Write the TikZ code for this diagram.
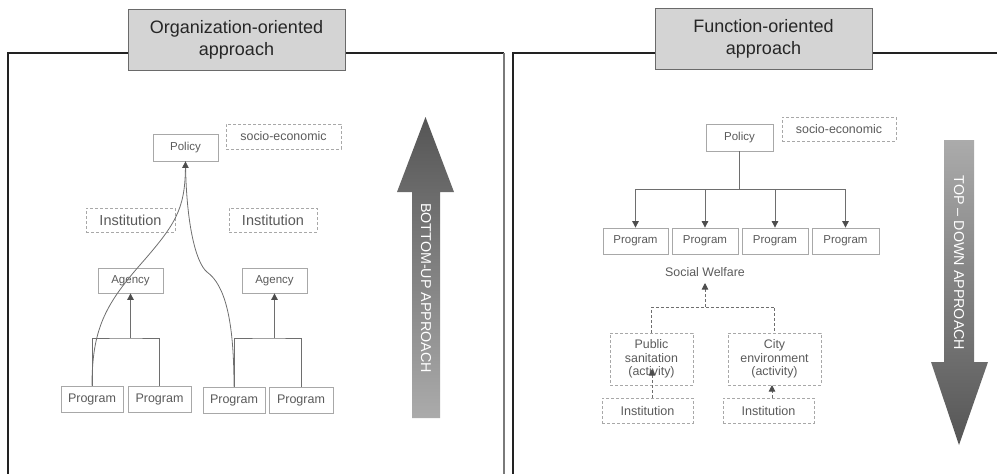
\documentclass[tikz,border=0pt]{standalone}
\usepackage{fontspec}
\setmainfont{Liberation Sans}
\usetikzlibrary{arrows.meta}

\definecolor{framecol}{HTML}{222222}
\definecolor{framegray}{HTML}{7A7A7A}
\definecolor{titlefill}{HTML}{D4D4D4}
\definecolor{titleedge}{HTML}{6A6A6A}
\definecolor{titleink}{HTML}{262626}
\definecolor{boxedge}{HTML}{A8A8A8}
\definecolor{ink}{HTML}{5A5A5A}
\definecolor{wirecol}{HTML}{6E6E6E}
\definecolor{tipcol}{HTML}{4D4D4D}
\definecolor{arrowdark}{HTML}{555555}
\definecolor{arrowlight}{HTML}{ABABAB}

\newcommand{\fsz}[2]{\fontsize{#1}{#2}\selectfont}

\tikzset{
  frame/.style={draw=framecol, line width=1.1pt},
  titlebox/.style={draw=titleedge, fill=titlefill, line width=0.9pt, text=titleink,
    align=center, inner sep=0pt, minimum width=217, minimum height=61, font=\fsz{18}{22}},
  box/.style={draw=boxedge, line width=0.8pt, text=ink, inner sep=0pt, font=\fsz{11.5}{13.5}},
  dbox/.style={box, dash pattern=on 3pt off 2pt},
  wire/.style={draw=wirecol, line width=0.9pt},
  conn/.style={wire, -{Triangle[length=6.5pt,width=6.5pt,color=tipcol]}},
  dwire/.style={wire, dash pattern=on 3pt off 2pt},
  dconn/.style={dwire, -{Triangle[length=6.5pt,width=6.5pt,color=tipcol]}},
  curve/.style={draw=wirecol, line width=0.8pt},
  bigtext/.style={rotate=-90, text=white, inner sep=0pt, font=\fsz{14.3}{16}},
}

\begin{document}
\begin{tikzpicture}[x=1pt, y=-1pt]
\useasboundingbox (0,0) rectangle (997,474);

% panel frames
\draw[frame] (8,474) -- (8,53) -- (504,53);
\draw[frame, draw=framegray] (504,53) -- (504,474);
\draw[frame] (513,474) -- (513,53) -- (997,53);

% panel titles
\node[titlebox] (titleL) at (236.5,40) {Organization-oriented\\approach};
\node[titlebox] (titleR) at (763.5,39) {Function-oriented\\approach};

% ---------- organization-oriented panel ----------
\node[box, minimum width=65, minimum height=27] (polL) at (185.5,147.5) {Policy};
\node[dbox, minimum width=115, minimum height=25, font=\fsz{12.4}{14}] (seL) at (283.5,136.5) {socio-economic};
\node[dbox, minimum width=89, minimum height=24, font=\fsz{14.5}{16}] (instL1) at (130.5,220) {Institution};
\node[dbox, minimum width=88, minimum height=24, font=\fsz{14.5}{16}] (instL2) at (273,220) {Institution};
\node[box, minimum width=65, minimum height=25] (agL1) at (130.5,280.5) {Agency};
\node[box, minimum width=65, minimum height=25] (agL2) at (274.5,280.5) {Agency};
\node[box, minimum width=62, minimum height=26, font=\fsz{12.5}{14}] (pL1) at (92,399) {Program};
\node[box, minimum width=63, minimum height=26, font=\fsz{12.5}{14}] (pL2) at (159.5,399) {Program};
\node[box, minimum width=62, minimum height=26, font=\fsz{12.5}{14}] (pL3) at (234,400) {Program};
\node[box, minimum width=64, minimum height=26, font=\fsz{12.5}{14}] (pL4) at (301,400) {Program};

\coordinate (jL1) at (126,338);
\coordinate (jL2) at (270,338);
\draw[wire] (pL1.north) |- (jL1) -| (pL2.north);
\draw[wire] (pL3.north) |- (jL2) -| (pL4.north);
\draw[conn] (agL1.south |- jL1) -- (agL1.south);
\draw[conn] (agL2.south |- jL2) -- (agL2.south);

% programs reporting straight to the policy
\draw[curve] (pL3.north) .. controls (234,320) and (225,285) .. (207,272)
  .. controls (195,262) and (186,220) .. (polL.south);
\draw[curve, -{Triangle[length=6.5pt,width=6.5pt,color=tipcol]}] (pL1.north)
  .. controls (92,330) and (105,305) .. (140,265)
  .. controls (175,225) and (185,210) .. (polL.south);

% bottom-up arrow
\shade[top color=arrowdark, bottom color=arrowlight]
  (412,418) -- (412,192) -- (397,192) -- (425.5,117) -- (454,192) -- (440,192) -- (440,418) -- cycle;
\node[bigtext] (bu) at (426,288) {BOTTOM-UP APPROACH};

% ---------- function-oriented panel ----------
\node[box, minimum width=67, minimum height=27] (polR) at (739.5,137.5) {Policy};
\node[dbox, minimum width=114, minimum height=24, font=\fsz{12.4}{14}] (seR) at (839,129) {socio-economic};
\node[box, minimum width=65, minimum height=26] (pR1) at (635.5,241) {Program};
\node[box, minimum width=66, minimum height=26] (pR2) at (705,241) {Program};
\node[box, minimum width=66, minimum height=26] (pR3) at (775,241) {Program};
\node[box, minimum width=67, minimum height=26] (pR4) at (845.5,241) {Program};

\coordinate (jR) at (739.5,189);
\draw[wire] (polR.south) -- (jR);
\draw[wire] (pR1.north |- jR) -- (pR4.north |- jR);
\foreach \p in {pR1,pR2,pR3,pR4}
  \draw[conn] (\p.north |- jR) -- (\p.north);

\node[text=ink, inner sep=0pt, inner ysep=6pt, anchor=south, font=\fsz{12.4}{14}] (sw) at (705,283) {Social Welfare};

\node[dbox, minimum width=83, minimum height=52, align=center, font=\fsz{12.4}{13.5}] (pubR) at (651.5,359) {Public\\sanitation\\(activity)};
\node[dbox, minimum width=93, minimum height=52, align=center, font=\fsz{12.4}{13.5}] (cityR) at (774.5,359) {City\\environment\\(activity)};
\node[dbox, minimum width=91, minimum height=25, font=\fsz{12.6}{14}] (instR1) at (647.5,410.5) {Institution};
\node[dbox, minimum width=91, minimum height=25, font=\fsz{12.6}{14}] (instR2) at (768.5,410.5) {Institution};

\coordinate (jD) at (705,307);
\draw[dwire] (pubR.north) |- (jD) -| (cityR.north);
\draw[dconn] (jD) -- (sw.south);

\coordinate (a1) at (652,369);
\coordinate (a2) at (772,385);
\draw[dconn] (instR1.north -| a1) -- (a1);
\draw[dconn] (instR2.north -| a2) -- (a2);

% top-down arrow
\shade[top color=arrowlight, bottom color=arrowdark]
  (944,140) -- (974,140) -- (974,362) -- (988,362) -- (959,445) -- (931,362) -- (944,362) -- cycle;
\node[bigtext] (td) at (959,263) {TOP -- DOWN APPROACH};

\end{tikzpicture}
\end{document}
